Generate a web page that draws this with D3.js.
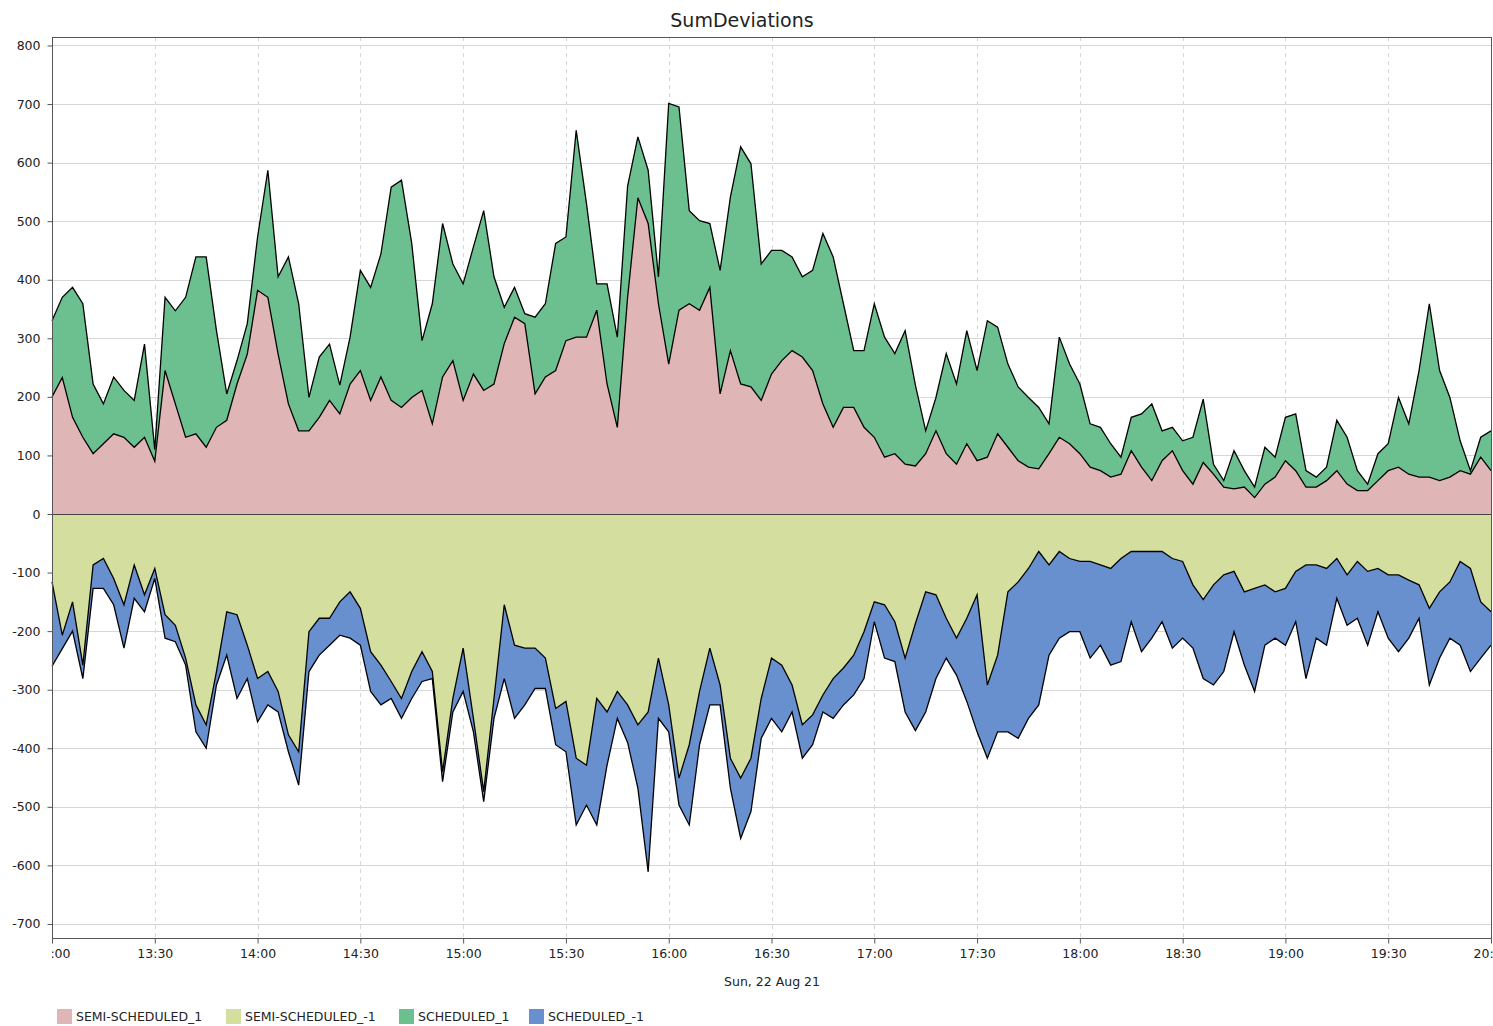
<!DOCTYPE html>
<html>
<head>
<meta charset="utf-8">
<script src="https://cdn.jsdelivr.net/npm/d3@7"></script>
<style>
  body { margin: 0; background: #fff; }
  text { font-family: "DejaVu Sans", sans-serif; fill: #222; }
</style>
</head>
<body>
<svg id="chart" width="1493" height="1026"></svg>
<script>
// readings every 3 minutes from 13:00
const startTime = new Date(2021, 7, 22, 13, 0);
const stepMinutes = 3;

const semiPos = [200,233,165,131,103,120,137,131,114,131,90,245,188,131,137,114,148,160,222,273,
  382,370,273,188,142,142,165,194,171,222,245,194,234,194,182,199,211,154,234,262,
  194,239,211,222,291,336,325,205,234,245,296,302,302,348,222,148,370,540,496,359,
  256,348,359,348,387,205,279,222,217,194,239,262,279,268,245,188,148,182,182,148,
  131,97,103,85,82,103,142,103,85,120,91,97,137,114,91,80,77,103,131,120,
  103,80,74,63,68,108,80,57,91,108,74,51,88,68,46,43,46,28,51,63,
  91,74,46,46,57,74,51,40,40,57,74,80,68,63,63,57,63,74,68,97,74];

const schedPos = [130,137,222,228,119,68,97,80,80,159,20,125,159,239,302,325,165,45,40,52,
  91,217,132,251,217,57,103,96,49,80,171,193,210,364,388,263,85,205,262,165,
  199,217,307,183,62,51,17,131,125,217,177,353,228,45,171,154,190,104,91,46,
  445,347,159,153,109,211,262,405,381,233,211,188,160,137,171,291,291,177,97,131,
  228,205,171,228,138,39,57,171,137,193,154,233,182,142,126,119,105,51,171,136,
  119,74,74,57,29,57,91,131,51,40,51,80,108,17,11,65,28,18,63,34,
  74,97,28,17,23,86,80,34,11,46,46,119,86,182,296,188,136,51,6,34,68];

const semiNeg = [-116,-207,-150,-258,-87,-76,-110,-155,-87,-138,-93,-172,-190,-246,-326,-360,-269,-167,-172,-224,
  -281,-269,-303,-377,-406,-201,-178,-178,-150,-133,-161,-235,-258,-286,-315,-269,-235,-269,-440,-315,
  -229,-349,-474,-315,-155,-224,-229,-229,-246,-332,-320,-417,-429,-315,-338,-303,-326,-360,-338,-246,
  -326,-451,-394,-303,-229,-292,-417,-451,-417,-315,-246,-258,-292,-360,-343,-309,-281,-263,-241,-201,
  -150,-155,-184,-246,-187,-133,-138,-178,-212,-178,-138,-292,-241,-133,-116,-93,-64,-87,-64,-76,
  -81,-81,-87,-93,-76,-64,-64,-64,-64,-76,-81,-121,-146,-121,-104,-98,-133,-127,-121,-133,
  -127,-98,-87,-87,-93,-76,-104,-81,-98,-93,-104,-104,-113,-121,-161,-133,-116,-81,-93,-150,-167];

const schedNeg = [-144,-23,-50,-23,-40,-51,-45,-74,-57,-29,-17,-40,-28,-12,-46,-40,-23,-74,-143,-57,
  -74,-57,-35,-29,-57,-68,-63,-46,-57,-79,-63,-68,-68,-29,-34,-46,-51,-12,-17,-23,
  -74,-23,-17,-34,-126,-125,-97,-69,-52,-62,-86,-114,-68,-216,-91,-46,-64,-108,-273,-103,
  -46,-46,-137,-91,-97,-34,-51,-103,-91,-68,-103,-114,-46,-57,-51,-29,-68,-63,-68,-80,
  -34,-91,-68,-92,-183,-205,-143,-68,-63,-142,-234,-125,-131,-239,-267,-256,-262,-154,-148,-125,
  -120,-165,-137,-165,-176,-120,-171,-148,-120,-153,-131,-108,-135,-171,-165,-103,-125,-176,-103,-79,
  -97,-86,-194,-125,-131,-68,-86,-97,-126,-74,-108,-131,-99,-57,-131,-113,-96,-143,-176,-96,-57];

const seriesNames = ["SEMI-SCHEDULED_1", "SEMI-SCHEDULED_-1", "SCHEDULED_1", "SCHEDULED_-1"];
const seriesColors = ["#dfb5b5", "#d3de9f", "#6cc08f", "#6890ce"];
const yTicks = d3.range(-700, 801, 100);
const chartTitle = "SumDeviations";
const xTitle = "Sun, 22 Aug 21";

const svg = d3.select("#chart");
const plotLeft = 52, plotRight = 1492, plotTop = 37, plotBottom = 938;

const rows = semiPos.map((v, i) => ({
  date: d3.timeMinute.offset(startTime, i * stepMinutes),
  "SEMI-SCHEDULED_1": v,
  "SEMI-SCHEDULED_-1": semiNeg[i],
  "SCHEDULED_1": schedPos[i],
  "SCHEDULED_-1": schedNeg[i]
}));

const x = d3.scaleTime()
    .domain([startTime, d3.timeMinute.offset(startTime, 420)])
    .range([plotLeft, plotRight - 1]);

const y = d3.scaleLinear()
    .domain([-724, 814.5])
    .range([plotBottom, plotTop]);

const stacked = d3.stack()
    .keys(seriesNames)
    .offset(d3.stackOffsetDiverging)(rows);

// grid
svg.append("g")
  .selectAll("line")
  .data(yTicks)
  .join("line")
    .attr("x1", plotLeft).attr("x2", plotRight)
    .attr("y1", d => Math.round(y(d)) + 0.5)
    .attr("y2", d => Math.round(y(d)) + 0.5)
    .attr("stroke", "#d6d6d6");

const xTicks = x.ticks(d3.timeMinute.every(30));
svg.append("g")
  .selectAll("line")
  .data(xTicks)
  .join("line")
    .attr("x1", d => Math.round(x(d)) + 0.5)
    .attr("x2", d => Math.round(x(d)) + 0.5)
    .attr("y1", plotTop).attr("y2", plotBottom)
    .attr("stroke", "#d6d6d6")
    .attr("stroke-dasharray", "4,4");

// areas
const area = d3.area()
    .x(d => x(d.data.date))
    .y0(d => y(d[0]))
    .y1(d => y(d[1]));

svg.append("g")
  .selectAll("path")
  .data(stacked)
  .join("path")
    .attr("d", area)
    .attr("fill", (d, i) => seriesColors[i]);

// outlines
svg.append("g")
  .selectAll("path")
  .data(stacked)
  .join("path")
    .attr("d", s => {
      const neg = s.key.endsWith("-1");
      return d3.line()
        .x(d => x(d.data.date))
        .y(d => y(neg ? d[0] : d[1]))(s);
    })
    .attr("fill", "none")
    .attr("stroke", "#000")
    .attr("stroke-width", 1.3);

// zero line
svg.append("line")
    .attr("x1", plotLeft).attr("x2", plotRight)
    .attr("y1", Math.round(y(0)) + 0.5).attr("y2", Math.round(y(0)) + 0.5)
    .attr("stroke", "#444");

// frame
svg.append("rect")
    .attr("x", plotLeft + 0.5).attr("y", plotTop + 0.5)
    .attr("width", plotRight - plotLeft - 1).attr("height", plotBottom - plotTop)
    .attr("fill", "none")
    .attr("stroke", "#555");

// axes
const yAxis = svg.append("g")
    .attr("transform", `translate(${plotLeft + 0.5},0)`)
    .call(d3.axisLeft(y).tickValues(yTicks).tickFormat(d => String(d)).tickSize(5).tickPadding(7));
yAxis.select(".domain").remove();
yAxis.selectAll("line").attr("stroke", "#555");
yAxis.selectAll("text").attr("font-size", 12.5).attr("font-family", "DejaVu Sans").attr("fill", "#222");

svg.append("clipPath").attr("id", "xclip")
  .append("rect").attr("x", plotLeft).attr("y", 0).attr("width", 1500).attr("height", 40);

const xAxis = svg.append("g")
    .attr("transform", `translate(0,${plotBottom + 0.5})`)
    .attr("clip-path", "url(#xclip)")
    .call(d3.axisBottom(x).ticks(d3.timeMinute.every(30)).tickFormat(d3.timeFormat("%H:%M")).tickSize(5).tickPadding(6));
xAxis.select(".domain").remove();
xAxis.selectAll("line").attr("stroke", "#555");
xAxis.selectAll("text").attr("font-size", 12.5).attr("font-family", "DejaVu Sans").attr("fill", "#222");

// titles
svg.append("text")
    .attr("x", 742).attr("y", 27)
    .attr("text-anchor", "middle")
    .attr("font-size", 19)
    .text(chartTitle);

svg.append("text")
    .attr("x", 772).attr("y", 986)
    .attr("text-anchor", "middle")
    .attr("font-size", 12.5)
    .text(xTitle);

// legend
const legendX = [57, 226, 399, 529];
const legend = svg.append("g")
  .selectAll("g")
  .data(seriesNames)
  .join("g")
    .attr("transform", (d, i) => `translate(${legendX[i]},1009)`);
legend.append("rect")
    .attr("width", 15).attr("height", 15)
    .attr("fill", (d, i) => seriesColors[i]);
legend.append("text")
    .attr("x", 19).attr("y", 12)
    .attr("font-size", 12.5)
    .text(d => d);
</script>
</body>
</html>
